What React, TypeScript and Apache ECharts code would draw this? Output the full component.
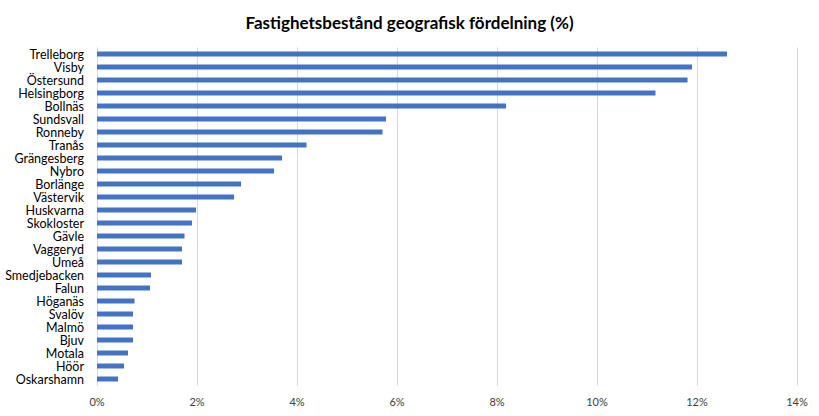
import React, { useEffect, useRef } from "react";
import * as echarts from "echarts";

const categories = [
  "Trelleborg", "Visby", "Östersund", "Helsingborg", "Bollnäs", "Sundsvall", "Ronneby", "Tranås",
  "Grängesberg", "Nybro", "Borlänge", "Västervik", "Huskvarna", "Skokloster", "Gävle", "Vaggeryd",
  "Umeå", "Smedjebacken", "Falun", "Höganäs", "Svalöv", "Malmö", "Bjuv", "Motala", "Höör", "Oskarshamn",
];
const values = [
  12.6, 11.9, 11.81, 11.17, 8.18, 5.78, 5.71, 4.19,
  3.7, 3.54, 2.88, 2.74, 1.98, 1.9, 1.75, 1.7,
  1.7, 1.08, 1.06, 0.75, 0.72, 0.72, 0.72, 0.62, 0.54, 0.42,
];
const title = "Fastighetsbestånd geografisk fördelning (%)";

export default function App() {
  const ref = useRef<HTMLDivElement>(null);
  useEffect(() => {
    document.body.style.margin = "0";
    const chart = echarts.init(ref.current!, null, { renderer: "svg" });
    chart.setOption({
      animation: false,
      backgroundColor: "#ffffff",
      title: {
        text: title,
        left: "center",
        top: 9,
        textStyle: { fontFamily: "Lato", fontWeight: "bold", fontSize: 17, color: "#000000" },
      },
      grid: { left: 97, right: 22, top: 47.5, bottom: 30.5, containLabel: false },
      xAxis: {
        type: "value",
        min: 0,
        max: 14,
        interval: 2,
        axisLine: { show: false },
        axisTick: { show: false },
        splitLine: { show: true, lineStyle: { color: "#d9d9d9", width: 1 } },
        axisLabel: {
          formatter: (v: number) => `${v}%`,
          fontFamily: "Lato",
          fontSize: 11,
          color: "#404040",
          margin: 10,
        },
      },
      yAxis: {
        type: "category",
        data: categories,
        inverse: true,
        axisLine: { show: false },
        axisTick: { show: false },
        axisLabel: {
          interval: 0,
          fontFamily: "Lato",
          fontSize: 12.5,
          lineHeight: 12,
          color: "#000000",
          margin: 13,
        },
      },
      series: [
        {
          type: "bar",
          data: values,
          barWidth: 5,
          itemStyle: { color: "#4472c4" },
        },
      ],
    });
    return () => chart.dispose();
  }, []);
  return <div ref={ref} style={{ width: 819, height: 416 }} />;
}
